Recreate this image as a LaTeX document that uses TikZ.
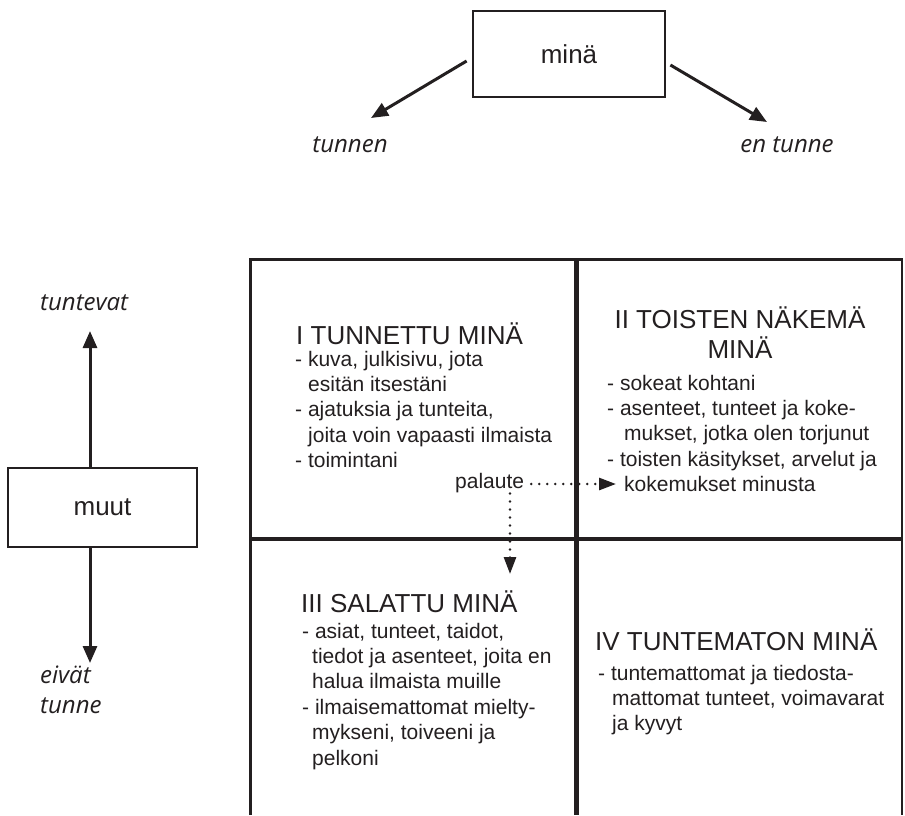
\documentclass[tikz,border=0pt]{standalone}
\usepackage{fontspec}
\setmainfont{Liberation Sans}
\newfontfamily\tagfont{Open Sans}
\usetikzlibrary{arrows.meta}
\definecolor{ink}{HTML}{231F20}
% left-aligned block of lines, anchored at the first baseline
\newcommand\stack[1]{\begin{tabular}[t]{@{}l@{}}#1\end{tabular}}
\begin{document}
\begin{tikzpicture}[x=1pt,y=-1pt,
  frame/.style={draw=ink,line width=2.8pt,line join=miter},
  box/.style={draw=ink,line width=2.8pt,inner sep=0pt,text=ink,
    font=\fontsize{26}{30}\selectfont},
  head/.style={inner sep=0pt,text=ink,font=\fontsize{26}{29}\selectfont},
  body/.style={inner sep=0pt,text=ink,anchor=base west,
    font=\fontsize{21}{25.4}\selectfont},
  tag/.style={inner sep=0pt,text=ink,
    font=\tagfont\itshape\fontsize{24}{30}\selectfont},
  link/.style={draw=ink,line width=3pt,-{Triangle[length=17pt,width=14pt]}},
  hint/.style={draw=ink,line width=2.8pt,line cap=round,
    dash pattern=on 0pt off 8pt,-{Triangle[length=17pt,width=12pt]}}]
\useasboundingbox (0,0) rectangle (905,815);

% --- self: known / not known ---
\node[box,minimum width=192pt,minimum height=86pt] (mina) at (569,54) {minä};
\node[tag,anchor=base] (known) at (350,152) {tunnen};
\node[tag,anchor=base] (unknown) at (787,152) {en tunne};
\coordinate (knowntip) at (371,118);
\coordinate (unknowntip) at (767,122);
\draw[link] ([shift={(-5,7)}]mina.west) -- (knowntip);
\draw[link] ([shift={(4,11)}]mina.east) -- (unknowntip);

% --- others: know / do not know ---
\node[box,minimum width=189pt,minimum height=79pt] (muut) at (102.5,507.5) {muut};
\node[tag,anchor=base west] (theyknow) at (40,310) {tuntevat};
\node[tag,anchor=base west] (theydont) at (40,683) {\stack{eivät\\tunne}};
\coordinate (uptip) at (90,331);
\coordinate (downtip) at (90,663);
\draw[link] ([xshift=-12.5pt]muut.north) -- (uptip);
\draw[link] ([xshift=-12.5pt]muut.south) -- (downtip);

% --- the four-pane window ---
\draw[frame] (250.5,815) -- (250.5,259.2) -- (902,259.2) -- (902,815);
\draw[draw=ink,line width=5pt] (576.5,259) -- (576.5,815);
\draw[draw=ink,line width=3.6pt] (250,538.7) -- (902,538.7);

% I
\node[head,anchor=base west] (t1) at (296,344) {I TUNNETTU MINÄ};
\node[body] (b1) at (295,366) {\stack{- kuva, julkisivu, jota\\
  \hspace*{13pt}esitän itsestäni\\
  - ajatuksia ja tunteita,\\
  \hspace*{13pt}joita voin vapaasti ilmaista\\
  - toimintani}};

% II
\node[head,anchor=base] (t2) at (740,328)
  {\begin{tabular}[t]{@{}c@{}}II TOISTEN NÄKEMÄ\\MINÄ\end{tabular}};
\node[body] (b2) at (607,390) {\stack{- sokeat kohtani\\
  - asenteet, tunteet ja koke-\\
  \hspace*{17pt}mukset, jotka olen torjunut\\
  - toisten käsitykset, arvelut ja\\
  \hspace*{17pt}kokemukset minusta}};

% III
\node[head,anchor=base west] (t3) at (301,612) {III SALATTU MINÄ};
\node[body] (b3) at (302,638) {\stack{- asiat, tunteet, taidot,\\
  \hspace*{10pt}tiedot ja asenteet, joita en\\
  \hspace*{10pt}halua ilmaista muille\\
  - ilmaisemattomat mielty-\\
  \hspace*{10pt}mykseni, toiveeni ja\\
  \hspace*{10pt}pelkoni}};

% IV
\node[head,anchor=base west] (t4) at (595,650) {IV TUNTEMATON MINÄ};
\node[body] (b4) at (598,680) {\stack{- tuntemattomat ja tiedosta-\\
  \hspace*{14pt}mattomat tunteet, voimavarat\\
  \hspace*{14pt}ja kyvyt}};

% feedback
\node[body] (fb) at (455,488) {palaute};
\coordinate (fbright) at (616,484);
\coordinate (fbdown) at (510,574);
\draw[hint] ([shift={(7,-4)}]fb.base east) -- (fbright);
\draw[hint] (fb.south -| fbdown) ++(0,1) -- (fbdown);
\end{tikzpicture}
\end{document}
